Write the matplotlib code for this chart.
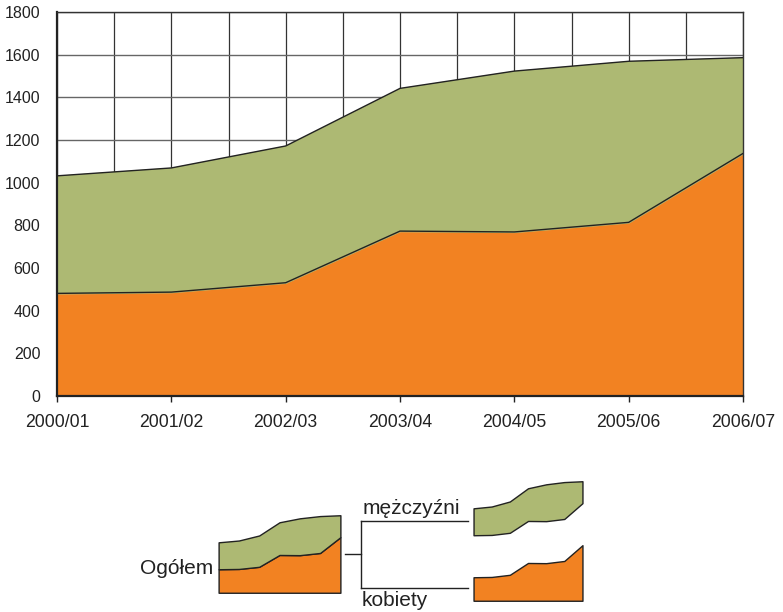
import matplotlib.pyplot as plt
from matplotlib.lines import Line2D
import numpy as np

years = ['2000/01', '2001/02', '2002/03', '2003/04', '2004/05', '2005/06', '2006/07']
kobiety = [481, 487, 531, 773, 769, 814, 1137]
mezczyzni = [551, 582, 641, 669, 754, 755, 449]

orange = '#F28222'
green = '#ADB973'
edge = '#222222'

plt.rcParams['font.family'] = ['Liberation Sans', 'DejaVu Sans']
plt.rcParams['text.color'] = '#222222'

W, H = 783, 612
fig = plt.figure(figsize=(W / 100, H / 100), dpi=100)


def box(x0, y0, x1, y1):
    # pixel box (top-left origin) -> figure rect
    return [x0 / W, (H - y1) / H, (x1 - x0) / W, (y1 - y0) / H]


def pt(x, y):
    return x / W, (H - y) / H


x = np.arange(len(years))
k = np.array(kobiety)
total = k + np.array(mezczyzni)

ax = fig.add_axes(box(57, 12, 743, 396))
ax.fill_between(x, 0, k, color=orange, zorder=2)
ax.fill_between(x, k, total, color=green, zorder=2)
ax.plot(x, k, color=edge, lw=1, zorder=3)
ax.plot(x, total, color=edge, lw=1, zorder=3)

ax.set_xlim(0, len(years) - 1)
ax.set_ylim(0, 1800)
ax.set_xticks(x)
ax.set_xticklabels(years, fontsize=12.7)
ax.set_xticks(np.arange(0.5, len(years) - 1, 1), minor=True)
ax.set_yticks(np.arange(0, 1801, 200))
ax.tick_params(axis='y', length=0, pad=12, labelsize=11.5, labelcolor='#222222')
ax.tick_params(axis='x', which='major', length=4, width=1, pad=9, colors='#222222')
ax.tick_params(axis='x', which='minor', length=0)
ax.grid(axis='x', which='both', color='#333333', lw=0.9, zorder=0)
ax.grid(axis='y', color='#666666', lw=1, zorder=0)
ax.set_axisbelow(True)
for s in ['top', 'right']:
    ax.spines[s].set_color('#333333')
    ax.spines[s].set_linewidth(1)
for s in ['left', 'bottom']:
    ax.spines[s].set_color('#222222')
    ax.spines[s].set_linewidth(1.6)

# schematic legend
def icon(rect, lower, upper, color):
    a = fig.add_axes(rect)
    xs = np.linspace(0, 1, len(years))
    a.fill_between(xs, lower, upper, facecolor=color, edgecolor=edge, lw=1)
    a.set_xlim(-0.005, 1.005)
    a.set_ylim(-5, total.max() + 5)
    a.axis('off')
    return a

icon(box(218, 515, 341, 593), 0, k, orange)
icon(box(218, 515, 341, 593), k, total, green)
icon(box(473, 481, 583, 559), k, total, green)
icon(box(473, 523, 583, 601), 0, k, orange)

for (xa, ya), (xb, yb) in [((345, 554), (361, 554)), ((361, 521), (361, 588)),
                           ((361, 521), (468, 521)), ((361, 588), (468, 588))]:
    p0, p1 = pt(xa, ya), pt(xb, yb)
    fig.add_artist(Line2D([p0[0], p1[0]], [p0[1], p1[1]], color=edge, lw=1))

fig.text(*pt(140, 568), 'Ogółem', fontsize=15, ha='left', va='center')
fig.text(*pt(363, 508), 'mężczyźni', fontsize=15, ha='left', va='center')
fig.text(*pt(362, 601), 'kobiety', fontsize=15, ha='left', va='center')

fig.savefig('out.png', dpi=100)
